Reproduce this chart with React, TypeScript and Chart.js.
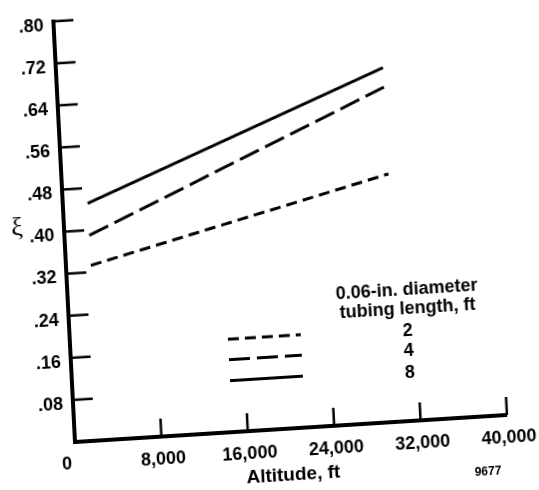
import React, { useEffect, useRef } from 'react';
import { Chart, registerables } from 'chart.js';

Chart.register(...registerables);

// ---- data ----
const altitudeFt = [2300, 30200];
const xi2ft = [0.333, 0.471];
const xi4ft = [0.39, 0.636];
const xi8ft = [0.451, 0.673];
const tubingLengths = ['2', '4', '8'];
const xTickValues = [0, 8000, 16000, 24000, 32000, 40000];
const yTickValues = [0, 0.08, 0.16, 0.24, 0.32, 0.4, 0.48, 0.56, 0.64, 0.72, 0.8];
const legendTitle = ['0.06-in. diameter', 'tubing length, ft'];
const xTitle = 'Altitude, ft';
const yTitle = 'ξ';
const figureNumber = '9677';

const W = 560;
const H = 540;
const ORIGIN_X = 75;
const ORIGIN_Y = 442;
const X_LEN = 432.8;
const Y_LEN = 426.6;
const FONT = '"Liberation Sans", Arial, Helvetica, sans-serif';
const dashes: number[][] = [[11, 6], [21, 7], []];

const overlay = {
  id: 'overlay',
  afterDraw(chart: any) {
    const { ctx, scales } = chart;
    const xs = scales.x;
    const ys = scales.y;
    const ox = xs.getPixelForValue(0);
    const oy = ys.getPixelForValue(0);
    ctx.save();
    ctx.strokeStyle = '#000';
    ctx.fillStyle = '#000';
    ctx.lineWidth = 2.5;
    ctx.lineCap = 'butt';
    // inward tick marks
    yTickValues.filter((v) => v > 0).forEach((v) => {
      const p = ys.getPixelForValue(v);
      ctx.beginPath();
      ctx.moveTo(ox, p);
      ctx.lineTo(ox + 20, p);
      ctx.stroke();
    });
    xTickValues.filter((v) => v > 0).forEach((v) => {
      const p = xs.getPixelForValue(v);
      ctx.beginPath();
      ctx.moveTo(p, oy);
      ctx.lineTo(p, oy - 18);
      ctx.stroke();
    });
    // shared origin label
    ctx.textAlign = 'center';
    ctx.textBaseline = 'middle';
    ctx.font = `bold 18px ${FONT}`;
    ctx.fillText('0', ox - 9, oy + 22);
    // y title
    ctx.font = '26px "Liberation Serif", "DejaVu Serif", serif';
    ctx.fillText(yTitle, ox - 47, oy - 217);
    // legend
    ctx.font = `bold 18px ${FONT}`;
    ctx.fillText(legendTitle[0], ox + 339, oy - 131);
    ctx.fillText(legendTitle[1], ox + 339, oy - 112);
    const textY = [-90, -70, -48];
    const lineY = [-93, -72.5, -51.5];
    tubingLengths.forEach((t, i) => {
      ctx.fillText(t, ox + 338, oy + textY[i]);
      ctx.save();
      ctx.lineWidth = 3;
      ctx.setLineDash(dashes[i]);
      ctx.beginPath();
      ctx.moveTo(ox + 158, oy + lineY[i]);
      ctx.lineTo(ox + 231, oy + lineY[i]);
      ctx.stroke();
      ctx.restore();
    });
    // figure number
    ctx.font = `bold 12px ${FONT}`;
    ctx.fillText(figureNumber, ox + 411, oy + 56);
    ctx.restore();
  },
};

export default function App() {
  const ref = useRef<HTMLCanvasElement>(null);
  useEffect(() => {
    if (!ref.current) return;
    const seriesValues = [xi2ft, xi4ft, xi8ft];
    const chart = new Chart(ref.current, {
      type: 'line',
      data: {
        datasets: seriesValues.map((vals, i) => ({
          label: tubingLengths[i],
          data: altitudeFt.map((a, j) => ({ x: a, y: vals[j] })),
          borderColor: '#000',
          borderWidth: 3,
          borderDash: dashes[i],
          pointRadius: 0,
          fill: false,
          tension: 0,
        })),
      },
      options: {
        animation: false,
        responsive: false,
        maintainAspectRatio: false,
        layout: { padding: { top: ORIGIN_Y - Y_LEN, right: W - (ORIGIN_X + X_LEN), bottom: 0, left: 0 } },
        plugins: { legend: { display: false }, tooltip: { enabled: false } },
        scales: {
          x: {
            type: 'linear',
            min: 0,
            max: 40000,
            afterFit: (s: any) => { s.height = H - ORIGIN_Y; },
            afterBuildTicks: (s: any) => { s.ticks = xTickValues.map((v) => ({ value: v })); },
            grid: { display: false, drawTicks: false },
            border: { display: true, width: 4, color: '#000' },
            ticks: {
              autoSkip: false,
              maxRotation: 0,
              padding: 12,
              labelOffset: 1,
              color: '#000',
              font: { family: FONT, size: 18, weight: 'bold' },
              callback: (v: any) => (Number(v) === 0 ? '' : Number(v).toLocaleString('en-US')),
            },
            title: {
              display: true,
              text: xTitle,
              color: '#000',
              font: { family: FONT, size: 19, weight: 'bold' },
              padding: { top: 0, bottom: 39.5 },
            },
          },
          y: {
            type: 'linear',
            min: 0,
            max: 0.8,
            afterFit: (s: any) => { s.width = ORIGIN_X; },
            afterBuildTicks: (s: any) => { s.ticks = yTickValues.map((v) => ({ value: v })); },
            grid: { display: false, drawTicks: false },
            border: { display: true, width: 4, color: '#000' },
            ticks: {
              autoSkip: false,
              padding: 10,
              labelOffset: 4,
              color: '#000',
              font: { family: FONT, size: 18, weight: 'bold' },
              callback: (v: any) => (Number(v) === 0 ? '' : Number(v).toFixed(2).replace(/^0/, '')),
            },
          },
        },
      },
      plugins: [overlay],
    });
    return () => chart.destroy();
  }, []);
  return (
    <div style={{ position: 'fixed', left: 0, top: 0, width: 539, height: 490, overflow: 'hidden', background: '#fff' }}>
      <canvas
        ref={ref}
        width={W}
        height={H}
        style={{
          position: 'absolute',
          left: 0,
          top: 0,
          width: W,
          height: H,
          transform: 'matrix(0.99805, -0.0625, 0.0513, 0.99868, 0, 0)',
          transformOrigin: `${ORIGIN_X}px ${ORIGIN_Y}px`,
        }}
      />
    </div>
  );
}
